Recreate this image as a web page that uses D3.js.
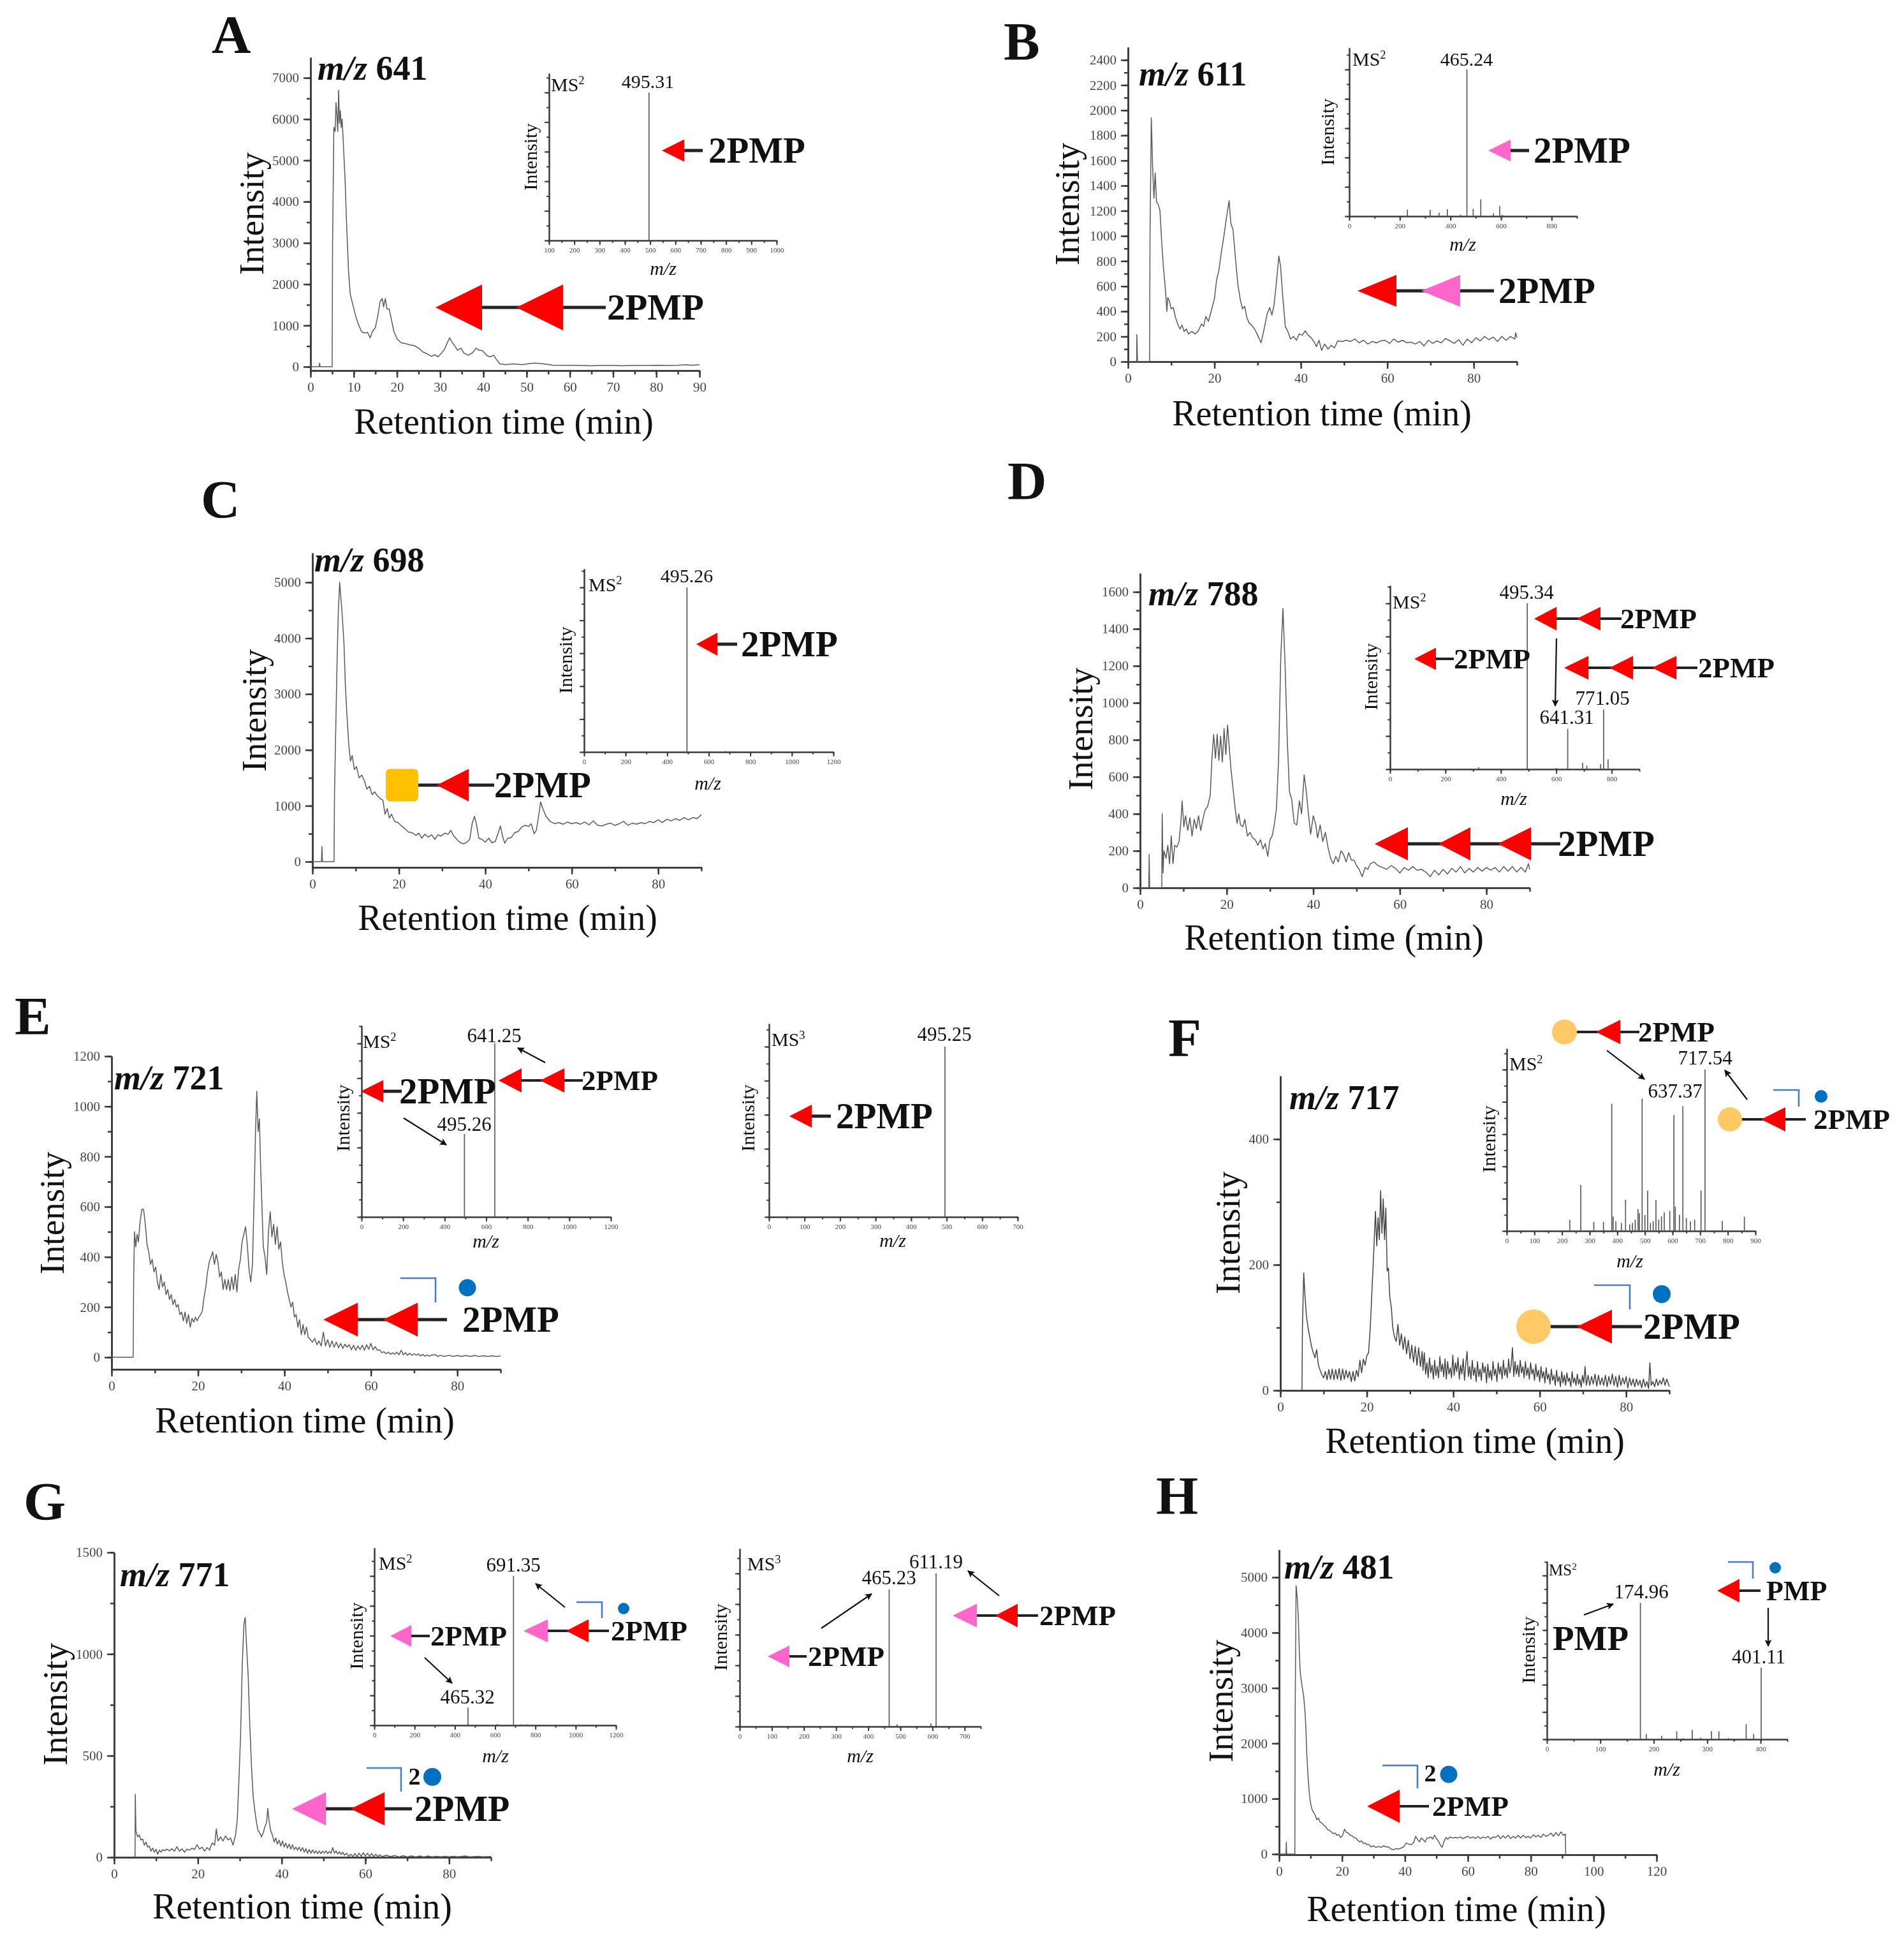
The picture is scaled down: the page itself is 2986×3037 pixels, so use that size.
<!DOCTYPE html>
<html><head><meta charset="utf-8">
<script src="https://cdn.jsdelivr.net/npm/d3@7/dist/d3.min.js"></script>
<style>html,body{margin:0;padding:0;background:#fff}svg{display:block;filter:blur(.7px)}</style>
</head><body><svg id="c" width="2986" height="3037"></svg>
<script>
// ---------- chromatogram traces: [retention time (min), intensity] ----------
const traceA=[[0,0],[2,0],[2.1,90],[2.2,0],[5,0],[5.1,3000],[5.4,5800],[5.7,5700],[5.9,6400],[6.1,6100],[6.3,5700],[6.5,6700],[6.7,5900],[6.9,6200],[7.1,5800],[7.3,6000],[7.6,5400],[8,4500],[8.4,3300],[8.8,2300],[9.2,1750],[9.8,1500],[10.4,1250],[11,1050],[11.8,850],[12.5,820],[13.2,830],[13.8,700],[14.3,850],[15,950],[15.6,1250],[16.1,1580],[16.6,1650],[16.9,1450],[17.3,1650],[17.7,1400],[18.2,1400],[18.7,1150],[19.3,850],[20,680],[21,580],[22,560],[23,530],[24,510],[25,450],[26,360],[27,310],[28,250],[28.7,290],[29.5,240],[30.3,330],[31,420],[31.6,570],[32.2,700],[32.7,600],[33.4,500],[34,400],[34.8,450],[35.5,330],[36.5,280],[37.5,340],[38.3,450],[39,400],[39.8,390],[40.8,270],[41.6,240],[42.4,280],[43,180],[43.8,70],[45,50],[47,70],[49,50],[51,80],[52,90],[54,70],[56,40],[58,35],[60,35],[62,30],[65,25],[67,30],[70,30],[72,25],[75,30],[78,30],[80,35],[83,30],[85,35],[87,50],[88,35],[90,45]];
const traceB=[[0,0],[2,0],[2.05,215],[2.2,0],[5,0],[5.1,1000],[5.4,1940],[5.7,1550],[6,1300],[6.3,1500],[6.6,1270],[7,1250],[7.4,1200],[7.8,950],[8.2,750],[8.6,600],[9,400],[9.2,510],[9.6,480],[10,420],[10.5,430],[11,350],[11.5,300],[12,260],[12.5,290],[13,240],[13.5,260],[14,220],[14.8,240],[15.5,220],[16.2,240],[17,300],[17.5,280],[18,360],[18.6,320],[19.4,420],[20,500],[20.5,650],[21,720],[21.6,870],[22.2,1000],[22.8,1150],[23.4,1280],[23.8,1100],[24.3,1050],[24.8,850],[25.4,620],[26,490],[26.5,420],[27,440],[27.5,350],[28,310],[28.6,290],[29.3,260],[30,210],[30.8,150],[31.5,260],[32.2,380],[32.8,430],[33.3,370],[33.8,450],[34.4,650],[34.9,840],[35.3,760],[35.8,520],[36.4,280],[37,240],[37.6,180],[38.3,200],[39,170],[39.6,220],[40.3,210],[41,245],[41.7,210],[42.4,190],[43,160],[43.6,120],[44.2,170],[44.8,90],[45.5,140],[46.3,100],[47,130],[47.8,110],[48.5,165],[49.5,160],[50.5,170],[51.5,160],[52.5,180],[53.5,150],[54.5,170],[55.5,140],[56.5,160],[57.5,150],[58.5,165],[59.5,170],[60.5,145],[61.5,180],[62.5,155],[63.5,170],[64.5,150],[65.5,155],[66.5,140],[67.5,160],[68.5,125],[69.5,170],[70.5,145],[71.5,165],[72.5,150],[73.5,185],[74.5,165],[75.5,145],[76.5,175],[77.5,130],[78.5,180],[79.5,150],[80.5,190],[81.5,165],[82.5,200],[83.5,175],[84.5,195],[85.5,160],[86.5,200],[87.5,170],[88.5,200],[89.5,180],[89.7,230],[90,190]];
const traceC=[[0,0],[2.1,0],[2.2,270],[2.3,0],[5,0],[5.1,1200],[5.3,2000],[5.7,3600],[6,4500],[6.3,5000],[6.6,4700],[6.9,4400],[7.3,3900],[7.6,3200],[8,2600],[8.4,2100],[8.8,1800],[9.2,1900],[9.7,1650],[10.2,1700],[10.8,1500],[11.4,1550],[12,1450],[12.6,1300],[13.2,1350],[13.8,1200],[14.4,1250],[15,1180],[15.7,1130],[16.3,1100],[16.8,850],[17.3,950],[17.8,780],[18.3,850],[19,720],[19.8,700],[20.6,640],[21.4,590],[22.2,530],[23,520],[24,470],[24.6,510],[25.3,420],[26,490],[26.8,440],[27.6,480],[28.3,400],[29,480],[29.8,460],[30.6,510],[31.4,490],[32,560],[32.6,470],[33.4,400],[34.2,340],[35,320],[35.8,350],[36.4,400],[37,700],[37.5,810],[38,650],[38.5,420],[39.2,400],[40,350],[40.8,420],[41.5,340],[42.3,360],[43,520],[43.5,640],[44,450],[44.5,330],[45.2,420],[46,430],[46.8,520],[47.6,540],[48.4,620],[49.2,650],[50,630],[50.6,680],[51.3,500],[51.8,560],[52.3,800],[52.8,1070],[53.3,950],[54,820],[55,720],[56,680],[57,700],[58,670],[59,710],[60,680],[61,700],[62,670],[63,710],[64,660],[65,730],[66,650],[67,640],[68,670],[69,690],[70,650],[71,680],[72,720],[73,650],[74,690],[75,670],[76,700],[77,680],[78,720],[79,700],[80,750],[81,700],[82,760],[83,730],[84,770],[85,740],[86,790],[87,750],[88,790],[89,770],[90,840]];
const traceD=[[0,0],[2,0],[2.1,180],[2.2,0],[5,0],[5.1,400],[5.3,80],[5.5,200],[6,160],[6.4,230],[6.8,130],[7.2,280],[7.6,130],[8,230],[8.5,220],[9,250],[9.4,350],[9.7,470],[10.1,330],[10.5,390],[11,310],[11.5,380],[12,280],[12.5,370],[13,320],[13.5,390],[14,310],[14.5,370],[15,420],[15.6,440],[16.2,500],[16.6,700],[17,830],[17.4,700],[17.8,830],[18.2,690],[18.6,820],[19,680],[19.4,860],[19.8,720],[20.2,880],[20.6,760],[21,640],[21.5,530],[22,420],[22.4,350],[22.8,400],[23.2,340],[23.7,330],[24.2,370],[24.8,280],[25.4,300],[26,270],[26.6,260],[27.2,230],[27.8,260],[28.4,210],[28.9,240],[29.5,170],[30,260],[30.5,280],[31,340],[31.5,430],[32,700],[32.5,1250],[33,1510],[33.5,1200],[34,800],[34.5,520],[35,480],[35.6,350],[36.2,340],[36.8,470],[37.3,400],[37.9,610],[38.4,520],[38.8,420],[39.4,290],[40,390],[40.6,340],[41,270],[41.6,340],[42.2,250],[42.8,300],[43.4,220],[44,160],[44.6,130],[45.2,170],[45.8,140],[46.4,200],[47,180],[47.6,140],[48.2,190],[48.8,150],[49.4,150],[50,120],[50.6,100],[51.3,60],[52,110],[52.6,100],[53.2,130],[54,140],[55,120],[56,110],[57,100],[58,120],[59,105],[60,80],[61,110],[62,95],[63,115],[64,95],[65,100],[66,85],[67,60],[68,95],[69,70],[70,100],[71,75],[72,105],[73,85],[74,115],[75,80],[76,105],[77,85],[78,110],[79,90],[80,110],[81,95],[82,110],[83,85],[84,115],[85,90],[86,115],[87,85],[88,110],[89,85],[89.7,130],[90,100]];
const traceE=[[0,0],[5,0],[5.1,300],[5.3,500],[5.6,440],[5.9,490],[6.2,460],[6.6,540],[7,590],[7.4,590],[7.8,530],[8.2,450],[8.6,420],[9,370],[9.4,390],[9.8,340],[10.2,360],[10.6,300],[11,270],[11.4,330],[11.8,280],[12.2,300],[12.6,250],[13,270],[13.4,230],[13.8,250],[14.2,210],[14.6,230],[15,200],[15.4,210],[15.8,170],[16.2,180],[16.6,145],[17,180],[17.4,135],[17.8,170],[18.2,120],[18.6,155],[19,140],[19.4,160],[19.8,145],[20.2,160],[20.6,170],[21,185],[21.4,240],[21.8,280],[22.2,340],[22.6,380],[23,400],[23.4,420],[23.8,370],[24.2,410],[24.6,380],[25,320],[25.4,340],[25.8,270],[26.2,310],[26.6,270],[27,310],[27.4,265],[27.8,320],[28.2,270],[28.6,330],[29,260],[29.4,350],[29.8,390],[30.2,460],[30.6,490],[31,520],[31.4,450],[31.8,350],[32.2,300],[32.6,370],[33,650],[33.3,900],[33.6,1060],[33.9,900],[34.2,950],[34.5,750],[34.8,600],[35.1,440],[35.5,400],[35.9,330],[36.3,500],[36.7,580],[37.1,480],[37.5,530],[37.9,450],[38.3,520],[38.7,430],[39.1,460],[39.5,380],[39.9,330],[40.3,300],[40.7,260],[41.1,230],[41.5,200],[41.9,220],[42.3,160],[42.7,170],[43.1,120],[43.5,150],[43.9,90],[44.3,130],[44.7,90],[45.1,120],[45.5,80],[46,70],[46.5,60],[47,75],[47.5,50],[48,65],[48.5,45],[49,100],[49.5,45],[50,70],[50.5,40],[51,65],[51.5,40],[52,60],[52.5,38],[53,55],[53.5,35],[54,52],[54.5,40],[55,50],[55.5,30],[56,48],[56.5,28],[57,45],[57.5,30],[58,48],[58.5,28],[59,50],[59.5,32],[60,55],[60.5,30],[61,42],[61.5,28],[62,30],[62.5,18],[63,22],[63.5,14],[64,20],[64.5,12],[65,18],[65.5,12],[66,20],[66.5,10],[67,28],[67.5,10],[68,18],[68.5,8],[69,16],[69.5,8],[70,14],[70.5,8],[71,13],[71.5,5],[72,11],[72.5,4],[73,9],[73.5,4],[74,8],[75,10],[75.5,3],[76,8],[77,3],[78,8],[79,3],[80,7],[81,3],[82,7],[83,3],[84,7],[85,3],[86,6],[87,3],[88,6],[89,3],[90,5]];
const traceF=[[5,0],[5.1,100],[5.4,187],[5.7,150],[6,120],[6.4,100],[6.8,85],[7.2,70],[7.6,60],[8,52],[8.4,65],[8.8,40],[9.2,32],[9.6,25],[10,20],[10.4,30],[10.8,17],[11.2,33],[11.6,18],[12,34],[12.4,17],[12.8,33],[13.2,18],[13.6,35],[14,16],[14.4,34],[14.8,18],[15.2,32],[15.6,20],[16,30],[16.4,14],[16.8,30],[17.2,15],[17.6,32],[18,22],[18.4,48],[18.8,28],[19.2,50],[19.6,40],[20,55],[20.4,60],[20.8,100],[21.2,160],[21.6,220],[22,285],[22.3,230],[22.6,275],[22.9,240],[23.2,318],[23.5,250],[23.8,305],[24.1,240],[24.4,290],[24.7,190],[25,195],[25.3,150],[25.7,130],[26,100],[26.4,85],[26.8,78],[27.2,105],[27.6,72],[28,90],[28.4,65],[28.8,85],[29.2,58],[29.6,80],[30,50],[30.4,72],[30.8,45],[31.2,70],[31.6,40],[32,68],[32.4,38],[32.8,62],[33,32],[33.3,60],[33.6,26],[33.9,44],[34.2,20],[34.5,52],[34.8,28],[35.1,40],[35.4,18],[35.7,48],[36,24],[36.3,38],[36.6,20],[36.9,54],[37.2,30],[37.5,42],[37.8,22],[38.1,50],[38.4,18],[38.7,46],[39,26],[39.3,36],[39.6,20],[39.9,56],[40.2,24],[40.5,44],[40.8,30],[41.1,52],[41.4,18],[41.7,40],[42,26],[42.3,50],[42.6,16],[42.9,42],[43.2,62],[43.5,22],[43.8,38],[44.1,18],[44.4,48],[44.7,24],[45,36],[45.3,14],[45.6,46],[45.9,22],[46.2,34],[46.5,16],[46.8,44],[47.1,28],[47.4,38],[47.7,12],[48,42],[48.3,20],[48.6,32],[48.9,16],[49.2,46],[49.5,24],[49.8,34],[50.1,14],[50.4,44],[50.7,26],[51,38],[51.3,18],[51.6,48],[51.9,24],[52.2,36],[52.5,20],[52.8,50],[53.1,28],[53.4,40],[53.7,68],[54,22],[54.3,46],[54.6,26],[54.9,40],[55.2,22],[55.5,48],[55.8,28],[56.1,38],[56.4,20],[56.7,46],[57,24],[57.3,36],[57.6,18],[57.9,44],[58.2,26],[58.5,34],[58.8,16],[59.1,42],[59.4,22],[59.7,32],[60,14],[60.3,38],[60.6,20],[60.9,30],[61.2,12],[61.5,36],[61.8,18],[62.1,26],[62.4,10],[62.7,34],[63,16],[63.3,24],[63.6,8],[63.9,32],[64.2,14],[64.5,22],[64.8,6],[65.1,30],[65.4,12],[65.7,24],[66,8],[66.3,28],[66.6,14],[66.9,20],[67.2,6],[67.5,30],[67.8,12],[68.1,20],[68.4,8],[68.7,26],[69,10],[69.3,18],[69.6,5],[69.9,24],[70.2,12],[70.5,38],[70.8,8],[71.2,24],[71.6,8],[72,22],[72.4,10],[72.8,26],[73.2,7],[73.6,24],[74,9],[74.4,20],[74.8,8],[75.2,24],[75.6,6],[76,22],[76.4,10],[76.8,26],[77.2,8],[77.6,22],[78,5],[78.4,24],[78.8,8],[79.2,20],[79.6,10],[80,22],[80.4,4],[80.8,20],[81.2,8],[81.6,18],[82,6],[82.4,18],[82.8,8],[83.2,16],[83.6,4],[84,18],[84.4,6],[84.8,14],[85.2,3],[85.5,44],[85.8,8],[86.2,14],[86.6,6],[87,18],[87.4,8],[87.8,16],[88.2,10],[88.6,20],[89,8],[89.4,18],[90,6]];
const traceG=[[5,0],[5.05,310],[5.2,130],[5.6,100],[6,110],[6.4,85],[6.8,90],[7.2,60],[7.6,75],[8,50],[8.4,55],[8.8,30],[9.2,45],[9.6,25],[10,40],[10.4,15],[10.8,35],[11.2,25],[11.6,38],[12,32],[12.6,40],[13.2,32],[13.8,42],[14.4,30],[15,52],[15.6,30],[16.2,42],[16.8,25],[17.4,40],[18,35],[18.6,45],[19.2,38],[19.8,62],[20.4,40],[21,50],[21.6,30],[22.2,48],[22.8,35],[23.4,70],[24,60],[24.4,140],[24.8,80],[25.4,100],[26,80],[26.6,105],[27.2,85],[27.8,95],[28.4,60],[29,110],[29.4,180],[29.8,380],[30.2,600],[30.6,950],[31,1150],[31.3,1180],[31.6,1050],[32,900],[32.4,650],[32.8,450],[33.2,300],[33.6,230],[34,170],[34.4,130],[34.8,120],[35.2,100],[35.6,120],[36,150],[36.4,170],[36.7,240],[37,180],[37.4,130],[37.8,110],[38.2,75],[38.6,95],[39,65],[39.4,85],[39.8,55],[40.2,80],[40.6,50],[41,70],[41.4,45],[41.8,65],[42.2,40],[42.6,62],[43,38],[43.4,50],[43.8,35],[44.2,50],[44.6,30],[45,48],[45.4,25],[45.8,42],[46.2,20],[46.6,38],[47,20],[47.4,36],[47.8,20],[48.2,32],[48.6,18],[49,30],[49.4,18],[49.8,30],[50.2,20],[50.6,32],[51,18],[51.4,28],[51.8,20],[52.2,48],[52.6,20],[53,32],[53.4,16],[53.8,28],[54.2,14],[54.6,25],[55,10],[55.5,20],[56,5],[56.5,15],[57,4],[57.5,18],[58,3],[58.5,20],[59,5],[59.5,22],[60,6],[60.5,20],[61,5],[61.5,18],[62,3],[62.5,15],[63,4],[63.5,12],[64,3],[65,10],[66,3],[67,9],[68,2],[69,8],[70,2],[71,7],[72,2],[73,6],[74,2],[75,6],[76,2],[77,5],[78,2],[79,5],[80,2],[81,5],[82,2],[84,6],[85,2],[87,5],[88,2],[90,4]];
const traceH=[[0,0],[2.2,0],[2.3,220],[2.4,0],[5,0],[5.1,2500],[5.4,4850],[5.8,4600],[6.1,4300],[6.4,3700],[6.7,3300],[7,3150],[7.4,3000],[7.8,2850],[8.2,2600],[8.5,2300],[8.8,1800],[9.2,1400],[9.6,1100],[10,920],[10.5,800],[11,750],[11.5,700],[12,620],[12.5,650],[13,580],[13.6,560],[14.2,520],[14.8,500],[15.4,440],[16,430],[16.6,400],[17.2,370],[17.8,380],[18.4,340],[19,350],[19.6,300],[20.2,340],[20.8,450],[21.4,390],[22,380],[22.6,340],[23.2,330],[23.8,300],[24.4,290],[25,250],[25.6,220],[26.2,240],[26.8,190],[27.4,200],[28,170],[28.6,170],[29.2,130],[30,150],[30.8,120],[31.6,140],[32.4,120],[33.2,150],[34,130],[34.8,130],[35.6,90],[36.4,80],[37.2,100],[38,90],[38.8,110],[39.6,130],[40.4,200],[41.2,180],[42,170],[42.8,210],[43.4,320],[44,270],[44.6,220],[45.2,290],[45.8,260],[46.4,220],[47,290],[47.6,290],[48.2,310],[48.8,270],[49.4,340],[50,280],[50.6,240],[51.2,170],[51.8,120],[52.4,220],[53,300],[53.6,270],[54.4,310],[55.2,290],[56,300],[56.8,290],[57.6,310],[58.4,280],[59.2,300],[60,320],[60.8,290],[61.6,310],[62.4,280],[63.2,320],[64,280],[64.8,310],[65.6,290],[66.4,320],[67.2,270],[68,310],[68.8,300],[69.6,340],[70.4,280],[71.2,330],[72,290],[72.8,340],[73.6,280],[74.4,320],[75.2,290],[76,340],[76.8,290],[77.6,340],[78.4,300],[79.2,320],[80,290],[80.8,350],[81.6,310],[82.4,340],[83.2,300],[84,360],[84.8,320],[85.6,340],[86.4,380],[87.2,320],[88,390],[88.8,330],[89.6,400],[90.4,340],[91,360],[91.1,0]];

// ---------- fragment spectra: [m/z, relative intensity] ----------
const peaksA=[[495.3,100]];
const peaksB=[[465.2,100],[230,4.6],[320,4.4],[355,2.4],[388,4.8],[440,1],[490,5],[520,11.5],[570,2],[595,6.8],[605,1]];
const peaksC=[[495.3,100],[680,.6]];
const peaksD=[[495.3,100],[641.3,24.3],[771,36],[695,3.8],[710,2.1],[787,6],[320,1.2],[600,.8],[760,3]];
const peaksE2=[[641.3,100],[495.3,47.8]];
const peaksE3=[[495.3,100],[622,.5]];
const peaksF=[[717.5,100],[637.4,77.3],[605,71.8],[490,82],[380,78.8],[268,28.5],[703,25],[430,19.4],[510,25],[540,19.2],[475,13.6],[228,6.9],[315,5.6],[350,5.6],[780,6.2],[860,8.8],[590,12.4],[570,11.5],[560,9],[610,15],[625,10],[650,8],[665,6],[680,7],[455,5],[445,4],[415,5],[395,6],[385,9],[530,6],[500,10],[465,7],[480,11],[520,5],[550,7]];
const peaksG2=[[691.3,100],[465.3,11.9],[610,.8],[730,.6],[760,.5]];
const peaksG3=[[611.2,100],[465.2,89.6],[490,1.5],[595,2]];
const peaksH=[[175,100],[401.1,52.5],[373,11],[186,3.9],[215,2.6],[243,5.8],[272,6.9],[288,1.3],[308,6],[322,5.8],[387,3.9],[255,.8],[340,.8]];

// ---------- tick label values ----------
const rtTicks20=[0,20,40,60,80], rtMinor10=d3.range(0,91,10);
const rtTicks10=d3.range(0,91,10), rtMinor5=d3.range(0,91,5);

// ---------- colours ----------
const RED='#ff0000',PINK='#ff66cc',ORANGE='#ffc966',AMBER='#ffc000',BLUE='#0070c0',BRK='#4a7cc4',INK='#111',AXIS='#3a3a3a',TRACE='#5a5a5a';
const FONT='"Liberation Serif","Times New Roman",serif';
const svg=d3.select('#c');
const defs=svg.append('defs');
defs.append('marker').attr('id','ah').attr('viewBox','0 0 10 10').attr('refX',9).attr('refY',5).attr('markerWidth',5.5).attr('markerHeight',5).attr('orient','auto')
  .append('path').attr('d','M0,0L10,5L0,10L2,5Z').attr('fill',INK);

function T(s,x,y,fs,o={}){
  const t=svg.append('text').attr('font-family',FONT).attr('font-size',fs).attr('fill',o.fill||INK)
    .attr('font-weight',o.w||'normal').attr('font-style',o.i?'italic':'normal').attr('text-anchor',o.a||'start');
  if(o.rot) t.attr('transform',`translate(${x},${y}) rotate(${o.rot})`); else t.attr('x',x).attr('y',y);
  t.text(s); return t;
}
function mzLabel(x,y,num,fs=54){
  const t=svg.append('text').attr('x',x).attr('y',y).attr('font-family',FONT).attr('font-size',fs).attr('font-weight','bold').attr('fill',INK);
  t.append('tspan').attr('font-style','italic').text('m/z');
  t.append('tspan').text(' '+num);
}
function msLabel(x,y,n,fs=30){
  const t=svg.append('text').attr('x',x).attr('y',y).attr('font-family',FONT).attr('font-size',fs).attr('fill',INK);
  t.append('tspan').text('MS');
  t.append('tspan').attr('dy',-fs*.38).attr('font-size',fs*.62).text(n);
}
function axes(o,x,yFull,xT,xM,yT,yM,tk,pad,fs){
  const gx=svg.append('g').attr('transform',`translate(0,${o.axisY})`);
  gx.call(d3.axisBottom(x).tickValues(xM).tickSize(tk*.55).tickFormat('').tickSizeOuter(0));
  gx.append('g').call(d3.axisBottom(x).tickValues(xT).tickSize(tk).tickPadding(pad).tickFormat(d3.format('d')).tickSizeOuter(0));
  const gy=svg.append('g').attr('transform',`translate(${o.x0},0)`);
  gy.call(d3.axisLeft(yFull).tickValues(yM).tickSize(tk*.55).tickFormat('').tickSizeOuter(0));
  const a=d3.axisLeft(yFull).tickValues(yT).tickSize(tk).tickPadding(pad).tickSizeOuter(0);
  a.tickFormat(o.noYLabels?'':d3.format('d'));
  gy.append('g').call(a);
  [gx,gy].forEach(g=>{
    g.selectAll('path,line').attr('stroke',AXIS).attr('stroke-width',o.lw||2.5);
    g.selectAll('text').filter(function(){return !this.textContent;}).remove();
    g.selectAll('text').attr('fill','#444').attr('font-family',FONT).attr('font-size',fs);
  });
}
function chrom(o){
  const x=d3.scaleLinear().domain(o.xDom||[0,90]).range([o.x0,o.x1]);
  const y=d3.scaleLinear().domain([0,o.vRef]).range([o.y0,o.yRef]);
  const yFull=d3.scaleLinear().domain([y.invert(o.axisY),y.invert(o.top)]).range([o.axisY,o.top]);
  axes(o,x,yFull,o.xT||rtTicks20,o.xM||rtMinor10,o.yT,o.yM,11,7,21);
  svg.append('path').datum(o.data).attr('fill','none').attr('stroke',o.stroke||TRACE).attr('stroke-width',o.sw||1.5).attr('stroke-linejoin','round')
    .attr('d',d3.line().x(d=>x(d[0])).y(d=>y(d[1])));
  T('Intensity',o.iX,o.iY,55,{a:'middle',rot:-90});
  T('Retention time (min)',o.rX,o.rY,56,{a:'middle'});
}
function inset(o){
  const x=d3.scaleLinear().domain(o.xDom).range([o.x0,o.x1]);
  const y=d3.scaleLinear().domain([0,100]).range([o.axisY,o.peakTop]);
  const yFull=d3.scaleLinear().domain([0,y.invert(o.top)]).range([o.axisY,o.top]);
  const yMax=y.invert(o.top);
  o.noYLabels=true; o.lw=2;
  axes(o,x,yFull,o.xT,o.xM,d3.range(0,yMax,20),d3.range(0,yMax,10),7,4,11);
  svg.append('g').selectAll('line').data(o.data).join('line')
    .attr('x1',d=>x(d[0])).attr('x2',d=>x(d[0])).attr('y1',o.axisY).attr('y2',d=>y(d[1]))
    .attr('stroke',TRACE).attr('stroke-width',1.7);
  T('Intensity',o.iX,o.iY,o.iFs||30,{a:'middle',rot:-90});
  T('m/z',o.mX,o.mY,30,{a:'middle',i:true});
}
// symbol chain: syms=[[kind,left,right],...], link runs through to tail, then label
function glycan(y,h,syms,tail,label,tx,fs){
  const lw=fs>50?5:4;
  if(tail!=null) svg.append('line').attr('x1',(syms[0][1]+syms[0][2])/2).attr('x2',tail).attr('y1',y).attr('y2',y).attr('stroke','#222').attr('stroke-width',lw);
  syms.forEach(s=>{
    const [k,a,b]=s;
    if(k==='R'||k==='K') svg.append('path').attr('d',`M${a},${y}L${b},${y-h/2}L${b},${y+h/2}Z`).attr('fill',k==='R'?RED:PINK);
    if(k==='C') svg.append('circle').attr('cx',(a+b)/2).attr('cy',y).attr('r',(b-a)/2).attr('fill',ORANGE);
    if(k==='S') svg.append('rect').attr('x',a).attr('width',b-a).attr('y',y-h/2).attr('height',h).attr('rx',7).attr('fill',AMBER);
  });
  if(label) T(label,tx,y+fs*.34,fs,{w:'bold'});
}
function bracket(x1,x2,y1,y2,dx,dy,r,two,twoX,twoY){
  svg.append('path').attr('d',`M${x1},${y1}H${x2}V${y2}`).attr('fill','none').attr('stroke',BRK).attr('stroke-width',2.6);
  svg.append('circle').attr('cx',dx).attr('cy',dy).attr('r',r).attr('fill',BLUE);
  if(two) T('2',twoX,twoY,38,{w:'bold',a:'middle'});
}
function arrow(x1,y1,x2,y2){
  svg.append('line').attr('x1',x1).attr('y1',y1).attr('x2',x2).attr('y2',y2).attr('stroke',INK).attr('stroke-width',2.2).attr('marker-end','url(#ah)');
}
function letter(s,x,y){T(s,x,y,85,{w:'bold'});}

// ===== A =====
letter('A',332,83);
chrom({data:traceA,x0:487,x1:1097,y0:575,vRef:7000,yRef:122,axisY:581,top:90,xT:rtTicks10,xM:rtMinor5,yT:d3.range(0,7001,1000),yM:d3.range(0,7001,500),iX:413,iY:335,rX:790,rY:680});
mzLabel(498,125,'641');
inset({data:peaksA,xDom:[100,1000],x0:861,x1:1218,axisY:377,top:115,peakTop:145,xT:d3.range(100,1001,100),xM:d3.range(100,1001,50),iX:842,iY:246,mX:1040,mY:431});
msLabel(864,143,'2'); T('495.31',1016,138,30,{a:'middle'});
glycan(236,35,[['R',1038,1073]],1102,'2PMP',1111,57);
glycan(482,72,[['R',683,756],['R',810,883]],950,'2PMP',952,57);

// ===== B =====
letter('B',1574,94);
chrom({data:traceB,x0:1769,x1:2379,y0:567,vRef:2400,yRef:94,axisY:567,top:74,yT:d3.range(0,2401,200),yM:d3.range(0,2401,100),iX:1692,iY:320,rX:2073,rY:667});
mzLabel(1786,134,'611');
inset({data:peaksB,xDom:[0,900],x0:2116,x1:2473,axisY:339,top:75,peakTop:109,xT:[0,200,400,600,800],xM:d3.range(0,901,100),iX:2092,iY:207,mX:2294,mY:393});
msLabel(2121,103,'2'); T('465.24',2300,103,30,{a:'middle'});
glycan(236,34,[['K',2334,2369]],2398,'2PMP',2405,57);
glycan(456,50,[['R',2129,2190],['K',2229,2290]],2343,'2PMP',2350,57);

// ===== C =====
letter('C',315,812);
chrom({data:traceC,x0:490,x1:1100,y0:1351,vRef:5000,yRef:913,axisY:1360,top:867,yT:d3.range(0,5001,1000),yM:d3.range(0,5001,500),iX:417,iY:1114,rX:796,rY:1458});
mzLabel(493,896,'698');
inset({data:peaksC,xDom:[0,1200],x0:916,x1:1307,axisY:1179,top:892,peakTop:921,xT:d3.range(0,1201,200),xM:d3.range(0,1201,100),iX:897,iY:1035,mX:1110,mY:1238});
msLabel(923,927,'2'); T('495.26',1077,913,30,{a:'middle'});
glycan(1010,36,[['R',1092,1125]],1156,'2PMP',1162,57);
glycan(1231,51,[['S',605,656],['R',685,735]],775,'2PMP',775,57);

// ===== D =====
letter('D',1580,783);
chrom({data:traceD,x0:1788,x1:2399,y0:1392,vRef:1600,yRef:928,axisY:1392,top:899,yT:d3.range(0,1601,200),yM:d3.range(0,1601,100),iX:1713,iY:1143,rX:2092,rY:1489});
mzLabel(1801,949,'788');
inset({data:peaksD,xDom:[0,900],x0:2180,x1:2571,axisY:1206,top:918,peakTop:946,xT:[0,200,400,600,800],xM:d3.range(0,901,100),iX:2160,iY:1061,mX:2374,mY:1262});
msLabel(2184,954,'2'); T('495.34',2394,939,31,{a:'middle'}); T('641.31',2457,1135,31,{a:'middle'}); T('771.05',2513,1105,31,{a:'middle'});
glycan(970,37,[['R',2406,2441],['R',2473,2510]],2543,'2PMP',2541,45);
glycan(1033,35,[['R',2218,2252]],2280,'2PMP',2280,45);
glycan(1047,37,[['R',2453,2491],['R',2524,2561],['R',2591,2629]],2662,'2PMP',2663,45);
arrow(2441,1001,2439,1107);
glycan(1323,52,[['R',2156,2208],['R',2256,2306],['R',2349,2401]],2447,'2PMP',2443,57);

// ===== E =====
letter('E',23,1622);
chrom({data:traceE,x0:175,x1:785,y0:2128,vRef:1200,yRef:1656,axisY:2147,top:1656,yT:d3.range(0,1201,200),yM:d3.range(0,1201,100),iX:100,iY:1902,rX:478,rY:2246});
mzLabel(179,1708,'721');
inset({data:peaksE2,xDom:[0,1200],x0:567,x1:958,axisY:1908,top:1608,peakTop:1636,xT:d3.range(0,1201,200),xM:d3.range(0,1201,100),iX:548,iY:1753,mX:762,mY:1956});
msLabel(569,1643,'2'); T('641.25',775,1634,31,{a:'middle'}); T('495.26',728,1773,31,{a:'middle'});
glycan(1711,35,[['R',566,601]],630,'2PMP',626,57);
glycan(1694,38,[['R',782,818],['R',847,885]],914,'2PMP',912,45);
arrow(855,1666,812,1643); arrow(633,1753,700,1795);
glycan(2069,53,[['R',507,561],['R',601,655]],701,'2PMP',725,57);
bracket(628,683,2004,2042,733,2019,13.5);
inset({data:peaksE3,xDom:[0,700],x0:1206,x1:1596,axisY:1908,top:1605,peakTop:1641,xT:d3.range(0,701,100),xM:d3.range(0,701,50),iX:1183,iY:1753,mX:1400,mY:1955});
msLabel(1210,1640,'3'); T('495.25',1481,1632,31,{a:'middle'});
glycan(1750,36,[['R',1238,1273]],1303,'2PMP',1311,57);

// ===== F =====
letter('F',1832,1656);
chrom({data:traceF,x0:2008,x1:2618,y0:2180,vRef:400,yRef:1786,axisY:2180,top:1687,yT:[0,200,400],yM:[0,100,200,300,400],iX:1944,iY:1933,rX:2313,rY:2278,stroke:'#444'});
mzLabel(2022,1739,'717');
inset({data:peaksF,xDom:[0,900],x0:2363,x1:2753,axisY:1930,top:1644,peakTop:1677,xT:d3.range(0,901,100),xM:d3.range(0,901,50),iX:2345,iY:1786,mX:2556,mY:1987});
msLabel(2367,1678,'2'); T('717.54',2674,1669,31,{a:'middle'}); T('637.37',2627,1721,31,{a:'middle'});
glycan(1618,38,[['C',2434,2473],['R',2503,2541]],2571,'2PMP',2569,45);
glycan(1755,38,[['C',2694,2732],['R',2762,2800]],2832,'2PMP',2844,45);
bracket(2781,2821,1709,1735,2856,1719,10);
arrow(2520,1647,2579,1692); arrow(2740,1724,2705,1678);
glycan(2080,53,[['C',2378,2432],['R',2473,2528]],2575,'2PMP',2577,57);
bracket(2500,2556,2015,2053,2606,2029,14);

// ===== G =====
letter('G',37,2383);
chrom({data:traceG,x0:179,x1:770,y0:2912,vRef:1500,yRef:2434,axisY:2912,top:2434,yT:[0,500,1000,1500],yM:d3.range(0,1501,250),iX:105,iY:2672,rX:474,rY:3008});
mzLabel(188,2487,'771');
inset({data:peaksG2,xDom:[0,1200],x0:587,x1:966,axisY:2705,top:2427,peakTop:2471,xT:d3.range(0,1201,200),xM:d3.range(0,1201,100),iX:569,iY:2565,mX:777,mY:2763});
msLabel(594,2461,'2'); T('691.35',805,2464,31,{a:'middle'}); T('465.32',733,2671,31,{a:'middle'});
glycan(2565,34,[['K',612,645]],674,'2PMP',675,45);
glycan(2557,36,[['K',821,859],['R',888,923]],955,'2PMP',958,45);
bracket(904,944,2512,2537,978,2522,9);
arrow(886,2520,840,2483); arrow(666,2599,709,2639);
glycan(2836,52,[['K',458,511],['R',550,603]],646,'2PMP',650,56);
bracket(575,629,2772,2809,678,2786,14,true,650,2798);
inset({data:peaksG3,xDom:[0,750],x0:1160,x1:1538,axisY:2707,top:2428,peakTop:2467,xT:d3.range(0,701,100),xM:d3.range(0,751,50),iX:1140,iY:2567,mX:1349,mY:2763});
msLabel(1172,2462,'3'); T('611.19',1468,2459,31,{a:'middle'}); T('465.23',1394,2484,31,{a:'middle'});
glycan(2597,34,[['K',1204,1238]],1265,'2PMP',1267,45);
glycan(2533,37,[['K',1494,1532],['R',1561,1596]],1628,'2PMP',1630,45);
arrow(1288,2553,1367,2499); arrow(1567,2502,1518,2463);

// ===== H =====
letter('H',1813,2374);
chrom({data:traceH,xDom:[0,120],x0:2006,x1:2598,y0:2907,vRef:5000,yRef:2473,axisY:2908,top:2430,xT:d3.range(0,121,20),xM:d3.range(0,121,10),yT:d3.range(0,5001,1000),yM:d3.range(0,5001,500),iX:1933,iY:2667,rX:2284,rY:3012});
mzLabel(2014,2475,'481');
inset({data:peaksH,xDom:[0,450],x0:2426,x1:2803,axisY:2727,top:2448,peakTop:2513,xT:[0,100,200,300,400],xM:d3.range(0,451,50),iX:2407,iY:2587,mX:2614,mY:2784});
msLabel(2429,2470,'2',25); T('174.96',2574,2506,31,{a:'middle'}); T('401.11',2758,2608,31,{a:'middle'});
T('PMP',2435,2587,55,{w:'bold'});
arrow(2484,2532,2530,2515);
glycan(2494,37,[['R',2693,2728]],2761,'PMP',2770,44);
bracket(2710,2749,2449,2475,2784,2458,9);
arrow(2773,2521,2773,2581);
glycan(2832,52,[['R',2144,2195]],2241,'2PMP',2246,45);
bracket(2168,2223,2768,2804,2272,2782,13.5,true,2243,2793);
</script></body></html>
